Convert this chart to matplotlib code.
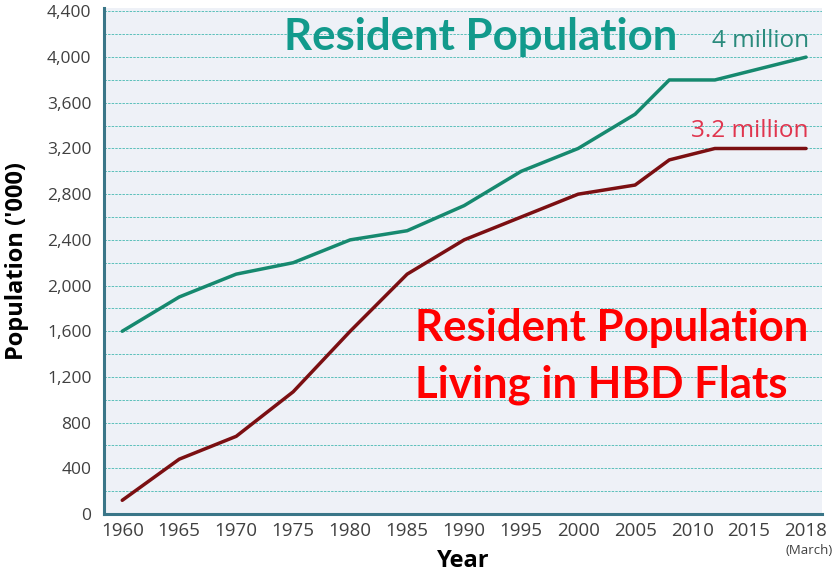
import matplotlib
matplotlib.use("Agg")
import matplotlib.pyplot as plt
import matplotlib.transforms as mtransforms
import numpy as np

# Data
tick_years = [1960, 1965, 1970, 1975, 1980, 1985, 1990, 1995, 2000, 2005, 2010, 2015, 2018]
tick_labels = ["1960", "1965", "1970", "1975", "1980", "1985", "1990", "1995",
               "2000", "2005", "2010", "2015", "2018"]
resident_years = [1960, 1965, 1970, 1975, 1980, 1985, 1990, 1995, 2000, 2005, 2008, 2012, 2018]
resident_pop = [1600, 1900, 2100, 2200, 2400, 2480, 2700, 3000, 3200, 3500, 3800, 3800, 4000]
hdb_years = [1960, 1965, 1970, 1975, 1980, 1985, 1990, 1995, 2000, 2005, 2008, 2012, 2018]
hdb_pop = [120, 480, 680, 1070, 1600, 2100, 2400, 2600, 2800, 2880, 3100, 3200, 3200]
y_ticks = list(range(0, 4401, 400))

def pos(years):
    return np.interp(years, tick_years, np.arange(len(tick_years)))

fig = plt.figure(figsize=(8.37, 5.74), dpi=100)
W, H = 837, 574
ax = fig.add_axes([104 / W, (H - 514) / H, (822 - 104) / W, (514 - 8) / H])
ax.set_facecolor("#eef1f7")

ax.plot(pos(resident_years), resident_pop, color="#16896f", lw=2.5, solid_capstyle="round", zorder=3)
ax.plot(pos(hdb_years), hdb_pop, color="#7b0f12", lw=2.5, solid_capstyle="round", zorder=3)

ax.set_xlim(-0.32, 12.28)
ax.set_ylim(0, 4430)
ax.set_yticks(y_ticks)
ax.set_yticklabels([f"{v:,}" for v in y_ticks])
ax.set_yticks(list(range(200, 4400, 400)), minor=True)
ax.set_xticks(np.arange(len(tick_years)))
ax.set_xticklabels(tick_labels)

ax.grid(axis="y", which="both", color="#5cc0bb", linestyle=(0, (2.5, 1.2)), lw=0.7, zorder=1)
ax.tick_params(axis="both", which="both", length=0, labelcolor="#404040")
ax.tick_params(axis="y", pad=9, labelsize=12.5)
ax.tick_params(axis="x", pad=6, labelsize=13.5)
for lab in ax.get_xticklabels() + ax.get_yticklabels():
    lab.set_fontfamily("Open Sans")

for s in ["top", "right"]:
    ax.spines[s].set_visible(False)
for s in ["left", "bottom"]:
    ax.spines[s].set_color("#3a7688")
    ax.spines[s].set_linewidth(2.2)

ax.set_ylabel("Population ('000)", fontsize=17, fontweight="bold", family="Open Sans")
ax.set_xlabel("Year", fontsize=17, fontweight="bold", family="Open Sans")
ax.yaxis.set_label_coords(-0.104, 0.5)
ax.xaxis.set_label_coords(0.5, -0.07)

trans = mtransforms.blended_transform_factory(ax.transData, ax.transAxes)
ax.text(12.05, -36 / 506, "(March)", ha="center", va="center", fontsize=9.5, color="#404040",
        family="Open Sans", transform=trans, clip_on=False)

ax.text(0.525, 0.942, "Resident Population", transform=ax.transAxes, ha="center", va="center",
        fontsize=31.5, fontweight="bold", color="#129a8c", family="Lato")
ax.text(12.05, 4040, "4 million", ha="right", va="bottom", fontsize=17.5, color="#2a8a7c",
        family="Open Sans")
ax.text(12.05, 3250, "3.2 million", ha="right", va="bottom", fontsize=17.5, color="#e0354e",
        family="Open Sans")
ax.text(5.14, 1380, "Resident Population\nLiving in HBD Flats", ha="left", va="center",
        fontsize=31.5, fontweight="bold", color="#ff0000", family="Lato", linespacing=1.5)

fig.savefig("out.png", dpi=100)
